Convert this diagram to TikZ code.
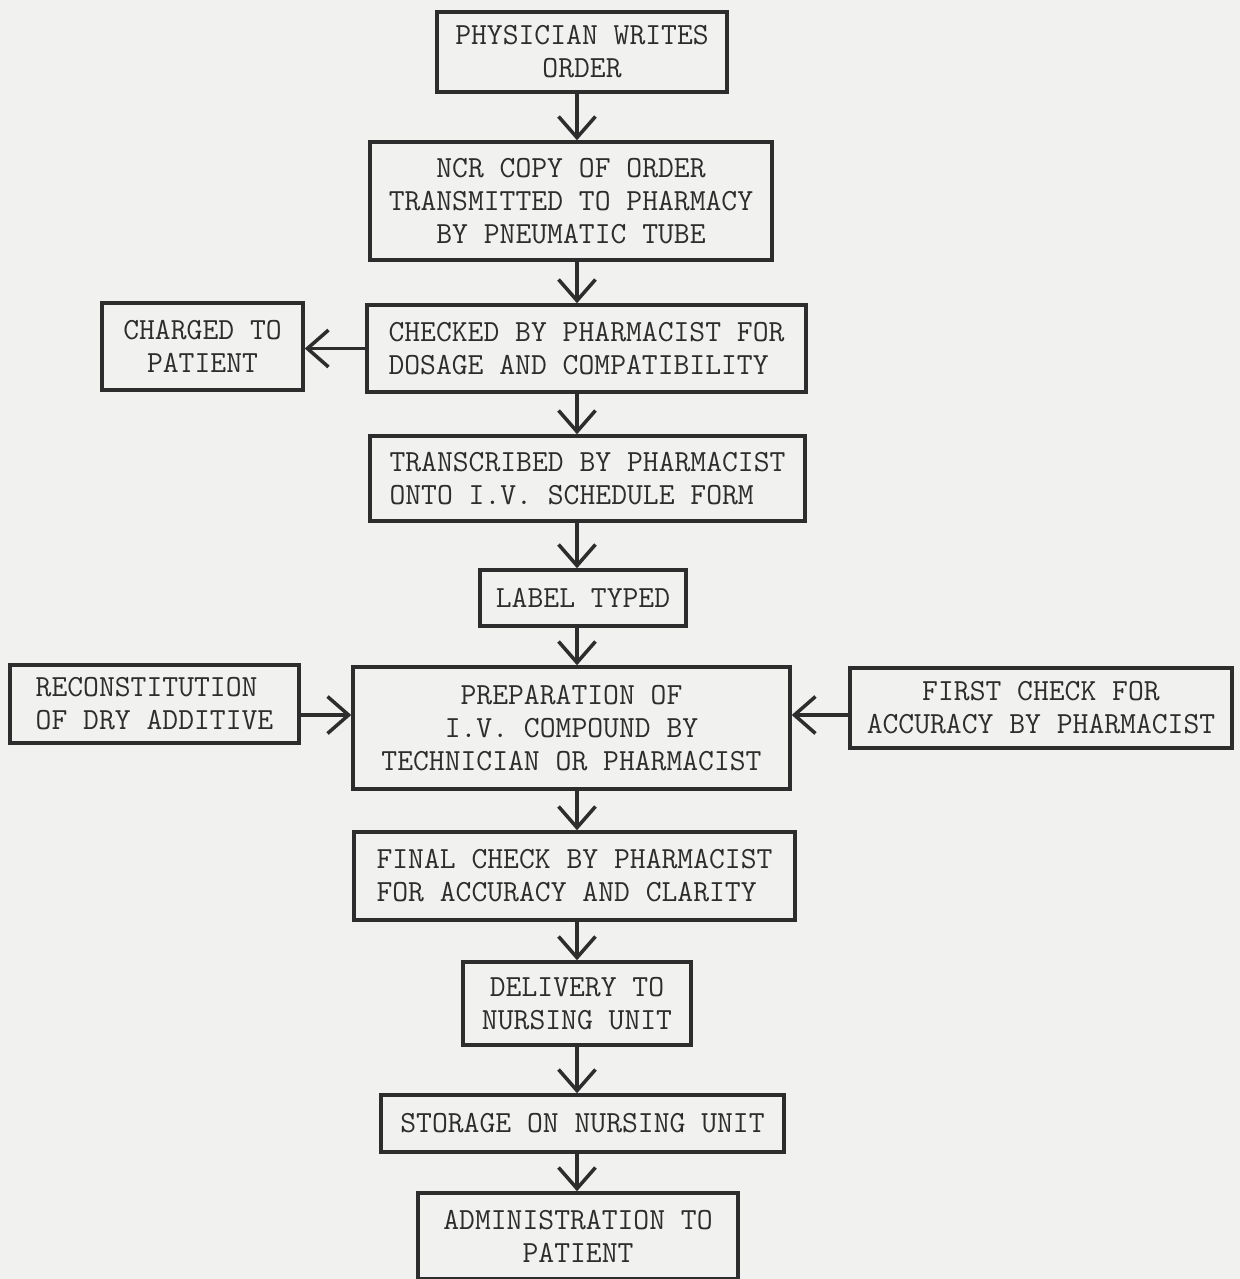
\documentclass[tikz,border=0pt]{standalone}
\usepackage{fontspec}
\usepackage{tikz}
\usetikzlibrary{arrows.meta}
\definecolor{paper}{RGB}{241,241,239}
\definecolor{ink}{RGB}{45,45,45}

\begin{document}
\begin{tikzpicture}[x=0.02cm,y=-0.02cm,
  box/.style={draw=ink,text=ink,line width=2pt,inner sep=0pt,
    font=\ttfamily\fontsize{17.5}{18.8}\selectfont},
  arr/.style={draw=ink,line width=2pt,-{Straight Barb[length=12pt,width=21pt,line width=2pt]}}]
\fill[paper] (0,0) rectangle (1240,1279);
\useasboundingbox (0,0) rectangle (1240,1279);
% main line
\node[box,align=center,minimum width=5.8cm,minimum height=1.6cm] (phys) at (582,52) {PHYSICIAN WRITES\\ORDER};
\node[box,align=center,minimum width=8.04cm,minimum height=2.36cm] (ncr) at (571,201) {NCR COPY OF ORDER\\TRANSMITTED TO PHARMACY\\BY PNEUMATIC TUBE};
\node[box,align=left,minimum width=8.78cm,minimum height=1.74cm] (chk) at (586.5,348.5) {CHECKED BY PHARMACIST FOR\\DOSAGE AND COMPATIBILITY};
\node[box,align=center,minimum width=4.02cm,minimum height=1.74cm] (chg) at (202.5,346.5) {CHARGED TO\\PATIENT};
\node[box,align=left,minimum width=8.7cm,minimum height=1.7cm] (trs) at (587.5,478.5) {TRANSCRIBED BY PHARMACIST\\ONTO I.V. SCHEDULE FORM};
\node[box,align=center,minimum width=4.12cm,minimum height=1.12cm] (lbl) at (583,598) {LABEL TYPED};
\node[box,align=center,minimum width=8.74cm,minimum height=2.44cm] (prep) at (571.5,728) {PREPARATION OF\\I.V. COMPOUND BY\\TECHNICIAN OR PHARMACIST};
\node[box,align=left,minimum width=5.78cm,minimum height=1.56cm] (rec) at (154.5,704) {RECONSTITUTION\\OF DRY ADDITIVE};
\node[box,align=center,minimum width=7.64cm,minimum height=1.6cm] (fst) at (1041,708) {FIRST CHECK FOR\\ACCURACY BY PHARMACIST};
\node[box,align=left,minimum width=8.82cm,minimum height=1.76cm] (fin) at (574.5,876) {FINAL CHECK BY PHARMACIST\\FOR ACCURACY AND CLARITY};
\node[box,align=center,minimum width=4.56cm,minimum height=1.66cm] (dlv) at (577,1003.5) {DELIVERY TO\\NURSING UNIT};
\node[box,align=center,minimum width=8.06cm,minimum height=1.14cm] (sto) at (582.5,1123.5) {STORAGE ON NURSING UNIT};
\node[box,align=center,minimum width=6.4cm,minimum height=1.72cm] (adm) at (578,1236) {ADMINISTRATION TO\\PATIENT};
\coordinate (ax) at (577,0);
\coordinate (my) at (0,715);
% arrows
\draw[arr] (phys.south -| ax) -- (ncr.north -| ax);
\draw[arr] (ncr.south -| ax) -- (chk.north -| ax);
\draw[arr] (chk.west) -- (chk.west -| chg.east);
\draw[arr] (chk.south -| ax) -- (trs.north -| ax);
\draw[arr] (trs.south -| ax) -- (lbl.north -| ax);
\draw[arr] (lbl.south -| ax) -- (prep.north -| ax);
\draw[arr] (rec.east |- my) -- (prep.west |- my);
\draw[arr] (fst.west |- my) -- (prep.east |- my);
\draw[arr] (prep.south -| ax) -- (fin.north -| ax);
\draw[arr] (fin.south -| ax) -- (dlv.north -| ax);
\draw[arr] (dlv.south -| ax) -- (sto.north -| ax);
\draw[arr] (sto.south -| ax) -- (adm.north -| ax);
\end{tikzpicture}
\end{document}
